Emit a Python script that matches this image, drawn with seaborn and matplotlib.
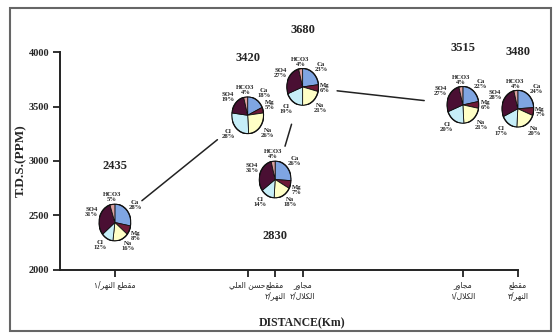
import numpy as np
import pandas as pd
import matplotlib
matplotlib.use('Agg')
import matplotlib.pyplot as plt
import seaborn as sns
from matplotlib.patches import Rectangle, Circle

# sampling sites along the river (x axis)
sites = ['مقطع النهر/١', 'حسن العلي', 'مقطع\nالنهر/٢', 'مجاور\nالكلال/٢', 'مجاور\nالكلال/١', 'مقطع\nالنهر/٣']
distance = [1.2, 4.1, 4.7, 5.3, 8.8, 10.0]
tds = [2435, 3420, 2830, 3680, 3515, 3480]

# ion shares (%) for each site
ions = ['Ca', 'Mg', 'Na', 'Cl', 'SO4', 'HCO3']
ca = [28, 18, 26, 23, 22, 24]
mg = [8, 5, 7, 6, 6, 7]
na = [16, 26, 18, 21, 21, 20]
cl = [12, 28, 14, 19, 20, 17]
so4 = [31, 19, 31, 27, 27, 28]
hco3 = [5, 4, 4, 4, 4, 4]

# which sites are joined by the trend line
links = [(0, 1), (2, 3), (3, 4)]

ion_colors = ['#7fa5e2', '#6e1a36', '#ffffc6', '#c6eef8', '#4a0f33', '#dba0a0']
label_side = [1, 1, -1, 1, 1, 1]

# crude arabic shaping (matplotlib has no text shaping)
FORMS = {
    'ا': ('\ufe8d', '\ufe8e', None, None),
    'ج': ('\ufe9d', '\ufe9e', '\ufe9f', '\ufea0'),
    'ح': ('\ufea1', '\ufea2', '\ufea3', '\ufea4'),
    'ر': ('\ufead', '\ufeae', None, None),
    'س': ('\ufeb1', '\ufeb2', '\ufeb3', '\ufeb4'),
    'ط': ('\ufec1', '\ufec2', '\ufec3', '\ufec4'),
    'ع': ('\ufec9', '\ufeca', '\ufecb', '\ufecc'),
    'ق': ('\ufed5', '\ufed6', '\ufed7', '\ufed8'),
    'ك': ('\ufed9', '\ufeda', '\ufedb', '\ufedc'),
    'ل': ('\ufedd', '\ufede', '\ufedf', '\ufee0'),
    'م': ('\ufee1', '\ufee2', '\ufee3', '\ufee4'),
    'ن': ('\ufee5', '\ufee6', '\ufee7', '\ufee8'),
    'ه': ('\ufee9', '\ufeea', '\ufeeb', '\ufeec'),
    'و': ('\ufeed', '\ufeee', None, None),
    'ي': ('\ufef1', '\ufef2', '\ufef3', '\ufef4'),
    'لا': ('\ufefb', '\ufefc', None, None),
}


def shape_line(line):
    chars = []
    i = 0
    while i < len(line):
        if line[i] == 'ل' and line[i + 1:i + 2] == 'ا':
            chars.append('لا')
            i += 2
        else:
            chars.append(line[i])
            i += 1
    out = []
    for k, c in enumerate(chars):
        f = FORMS.get(c)
        if f is None:
            out.append(c)
            continue
        prev = FORMS.get(chars[k - 1]) if k > 0 else None
        nxt = FORMS.get(chars[k + 1]) if k + 1 < len(chars) else None
        jp = prev is not None and prev[2] is not None
        jn = nxt is not None and f[2] is not None
        if jp and jn:
            out.append(f[3])
        elif jp:
            out.append(f[1])
        elif jn:
            out.append(f[2])
        else:
            out.append(f[0])
    return ''.join(reversed(out))


def shape(s):
    return '\n'.join(shape_line(l) for l in s.split('\n'))


sns.set_style('ticks')
plt.rcParams['font.family'] = ['Liberation Serif', 'DejaVu Sans']

fig, ax = plt.subplots(figsize=(5.55, 3.34), dpi=100)
fig.subplots_adjust(left=0.108, right=0.933, bottom=0.192, top=0.844)

ax.set_xlim(0, 10)
ax.set_ylim(2000, 4000)
ax.set_yticks([2000, 2500, 3000, 3500, 4000])
ax.set_yticklabels(['2000', '2500', '3000', '3500', '4000'], fontsize=7.5, fontweight='bold')
ax.set_xticks(distance)
ax.set_xticklabels([shape(s) for s in sites], fontsize=5.5, family=['DejaVu Sans'], linespacing=1.2)
ax.tick_params(width=1.3, length=5, color='#222', pad=2.5)
for sp in ['left', 'bottom']:
    ax.spines[sp].set_linewidth(1.4)
    ax.spines[sp].set_color('#222')
sns.despine(ax=ax)

ax.set_ylabel('T.D.S.(PPM)', fontsize=9.5, fontweight='bold')
ax.yaxis.set_label_coords(-0.072, 0.5)
ax.set_xlabel('DISTANCE(Km)', fontsize=8.5, fontweight='bold')
ax.xaxis.set_label_coords(0.528, -0.22)

for a, b in links:
    ax.annotate('', xy=(distance[b], tds[b]), xytext=(distance[a], tds[a]),
                arrowprops=dict(arrowstyle='-', color='#222', lw=1.1, shrinkA=25, shrinkB=28))

for i, v in enumerate(tds):
    ax.annotate(str(v), (distance[i], v), xytext=(0, 41 * label_side[i]), textcoords='offset points',
                ha='center', va='center', fontsize=9, fontweight='bold')

# pies
pw, ph = 32 / 555, 37 / 334
inv = fig.transFigure.inverted()
shares_all = list(zip(ca, mg, na, cl, so4, hco3))
for i in range(len(tds)):
    cx, cy = inv.transform(ax.transData.transform((distance[i], tds[i])))
    pax = fig.add_axes([cx - pw / 2, cy - ph / 2, pw, ph])
    shares = shares_all[i]
    wedges, _ = pax.pie(shares, colors=ion_colors, startangle=90, counterclock=False,
                        wedgeprops=dict(edgecolor='#111', linewidth=0.6))
    pax.set_aspect('auto')
    pax.set_xlim(-1, 1)
    pax.set_ylim(-1, 1)
    pax.add_patch(Circle((0, 0), 1, fill=False, edgecolor='#111', lw=1.0))
    for w, ion, s in zip(wedges, ions, shares):
        ang = np.deg2rad((w.theta1 + w.theta2) / 2)
        c, sn = np.cos(ang), np.sin(ang)
        ha = 'left' if c > 0.25 else ('right' if c < -0.25 else 'center')
        va = 'bottom' if sn > 0.25 else ('top' if sn < -0.25 else 'center')
        pax.text(1.1 * c, 1.1 * sn, f'{ion}\n{s}%', ha=ha, va=va, ma='center', fontsize=4.8,
                 fontweight='bold', linespacing=1.0, clip_on=False)

fig.patches.append(Rectangle((10 / 555, 3 / 334), 541 / 555, 323 / 334, transform=fig.transFigure,
                             fill=False, edgecolor='#666', lw=1.5))

fig.savefig('out.png', dpi=100, facecolor='white')
